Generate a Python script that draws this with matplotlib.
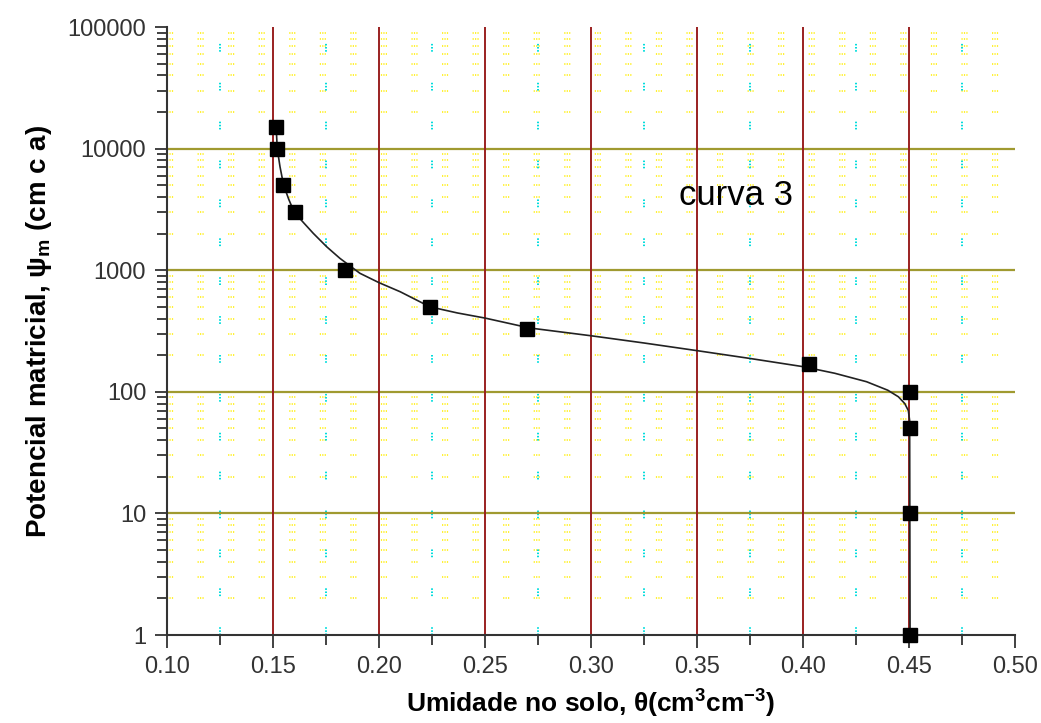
import matplotlib
matplotlib.use("Agg")
import matplotlib.pyplot as plt
from matplotlib.ticker import FixedLocator, FuncFormatter, NullFormatter

# measured points (curva 3)
theta_obs = [0.1515, 0.152, 0.1547, 0.1604, 0.184, 0.224, 0.270, 0.403, 0.4505, 0.4505, 0.4505, 0.4505]
psi_obs = [15000, 10000, 5000, 3000, 1000, 500, 330, 170, 100, 50, 10, 1]

# fitted curve
theta_fit = [0.1515, 0.152, 0.1533, 0.155, 0.1575, 0.160, 0.1645, 0.169, 0.1753, 0.1816,
             0.191, 0.200, 0.210, 0.224, 0.237, 0.250, 0.271, 0.300, 0.325, 0.350,
             0.375, 0.400, 0.415, 0.430, 0.440, 0.445, 0.448, 0.4497, 0.4503, 0.4505]
psi_fit = [15000, 10000, 7100, 5000, 3800, 3000, 2450, 2010, 1560, 1250,
           943, 790, 665, 500, 445, 404, 335, 289, 252, 218,
           188, 161, 142, 121, 103, 91, 80, 70, 58, 1]

x_ticks = [0.10, 0.15, 0.20, 0.25, 0.30, 0.35, 0.40, 0.45, 0.50]
x_minor = [0.125, 0.175, 0.225, 0.275, 0.325, 0.375, 0.425, 0.475]
y_ticks = [1, 10, 100, 1000, 10000, 100000]

plt.rcParams["font.family"] = ["Liberation Sans", "DejaVu Sans"]
plt.rcParams["mathtext.default"] = "regular"

fig = plt.figure(figsize=(10.41, 7.23), dpi=100)
ax = fig.add_axes([167 / 1041, 88 / 723, 848 / 1041, 608 / 723])

ax.set_xlim(0.10, 0.50)
ax.set_yscale("log")
ax.set_ylim(1, 100000)

# minor grid: dotted groups
dots = (0, (0.8, 0.8, 0.8, 0.8, 0.8, 16))
y_minor = [m * 10 ** e for e in range(0, 5) for m in range(2, 10)]
for y in y_minor:
    ax.axhline(y, color="#ffee00", lw=1.1, ls=dots, zorder=1)
for x in x_minor:
    ax.axvline(x, color="#00dddd", lw=1.4, ls=dots, zorder=1)

# major grid
for y in y_ticks[1:-1]:
    ax.axhline(y, color="#a09a30", lw=1.6, zorder=2)
for x in x_ticks[1:-1]:
    ax.axvline(x, color="#9a2020", lw=1.4, zorder=2)

ax.plot(theta_fit, psi_fit, color="#222222", lw=1.2, zorder=3)
ax.plot(theta_obs, psi_obs, ls="none", marker="s", ms=10, color="black", zorder=4,
        clip_on=False)

ax.text(0.3415, 3450, "curva 3", fontsize=25, color="black", va="baseline", zorder=5)

ax.xaxis.set_major_locator(FixedLocator(x_ticks))
ax.xaxis.set_minor_locator(FixedLocator(x_minor))
ax.xaxis.set_major_formatter(FuncFormatter(lambda v, p: f"{v:.2f}"))
ax.yaxis.set_major_locator(FixedLocator(y_ticks))
ax.yaxis.set_minor_locator(FixedLocator(y_minor))
ax.yaxis.set_major_formatter(FuncFormatter(lambda v, p: f"{int(round(v))}"))
ax.yaxis.set_minor_formatter(NullFormatter())

for side in ["top", "right"]:
    ax.spines[side].set_visible(False)
for side in ["left", "bottom"]:
    ax.spines[side].set_color("#333333")
    ax.spines[side].set_linewidth(1.5)

ax.tick_params(which="major", direction="out", length=9, width=1.3, color="#333333",
               labelsize=17, labelcolor="#333333", pad=6)
ax.tick_params(axis="x", which="minor", direction="out", length=7, width=1.3, color="#333333")
ax.tick_params(axis="y", which="minor", direction="out", length=7, width=1.3, color="#333333")

ax.set_xlabel("Umidade no solo, θ(cm$^{3}$cm$^{-3}$)", fontsize=19,
              fontweight="bold", labelpad=7)
ax.set_ylabel("Potencial matricial, ψ$_{m}$ (cm c a)", fontsize=20,
              fontweight="bold", labelpad=10)

fig.savefig("out.png", dpi=100)
